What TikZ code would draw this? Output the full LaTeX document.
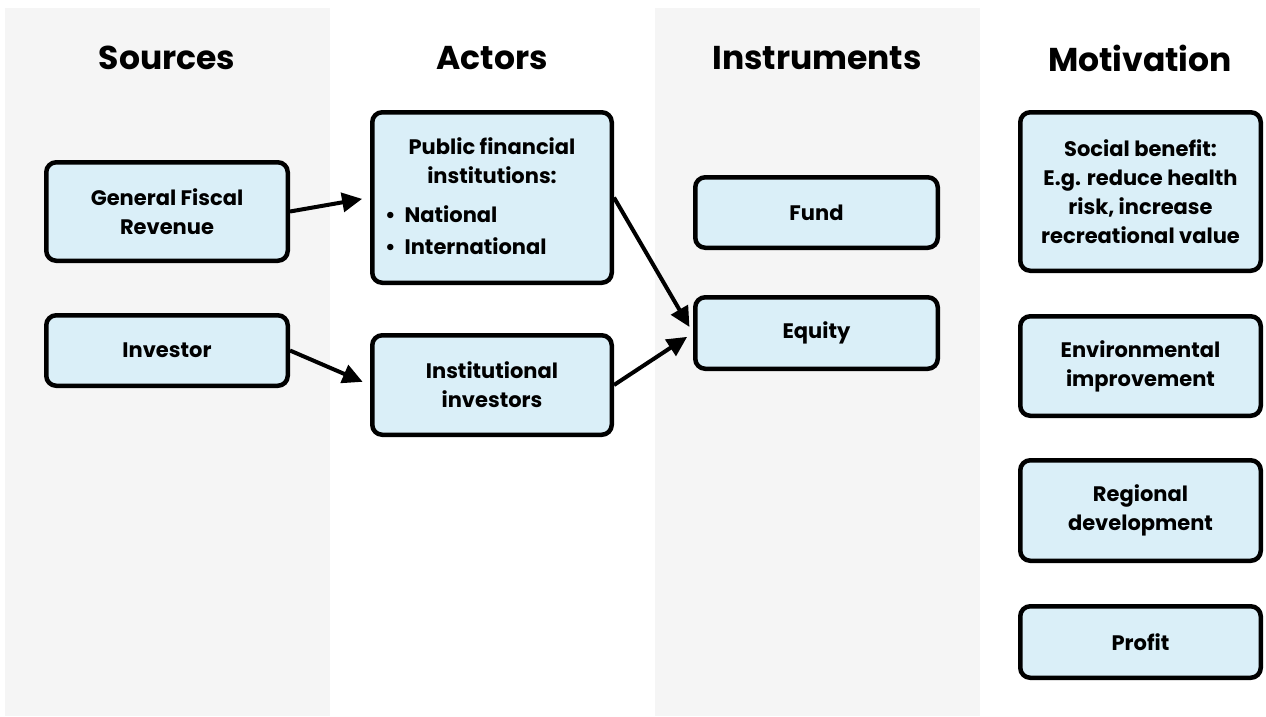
\documentclass[tikz,border=0pt]{standalone}
\usepackage{fontspec}
\setmainfont{Poppins}
\usetikzlibrary{arrows.meta}
\definecolor{panelgray}{HTML}{F5F5F5}
\definecolor{boxblue}{HTML}{DAEFF8}
\tikzset{
  panel/.style={fill=panelgray, draw=none},
  coltitle/.style={font=\fontsize{33}{40}\selectfont\bfseries, anchor=center},
  card/.style={draw=black, fill=boxblue, line width=4.5pt, rounded corners=10pt,
    align=center, font=\fontsize{21}{29}\selectfont\bfseries, inner sep=0pt},
  cardtext/.style={font=\fontsize{21}{29}\selectfont\bfseries, align=center, inner sep=0pt},
  flow/.style={line width=4pt, -{Triangle[length=20pt,width=19pt]}, shorten >=8pt}
}
\begin{document}
\begin{tikzpicture}[x=1pt,y=-1pt]
\useasboundingbox (0,0) rectangle (1266,716);
\fill[white] (0,0) rectangle (1266,716);
\fill[panel] (5,8) rectangle (330,716);
\fill[panel] (655,8) rectangle (980,716);

\node[coltitle] (tsrc) at (167,58) {Sources};
\node[coltitle] (tact) at (492,58) {Actors};
\node[coltitle] (tins) at (817,58) {Instruments};
\node[coltitle] (tmot) at (1140,58) {Motivation};

\node[card, minimum width=241.5pt, minimum height=98.5pt] (gfr) at (167,211.5) {General Fiscal\\Revenue};
\node[card, minimum width=241.5pt, minimum height=70.5pt] (inv) at (167,350.5) {Investor};
\node[card, minimum width=239.5pt, minimum height=170.5pt] (pfi) at (492,197.5) {};
\node[cardtext] (pfit) at (492,161) {Public financial\\institutions:};
\node[cardtext, anchor=west] (pfin) at (385,214) {\textbullet\ \ National};
\node[cardtext, anchor=west] (pfii) at (385,246) {\textbullet\ \ International};
\node[card, minimum width=239.5pt, minimum height=99.5pt] (ii) at (492,385) {Institutional\\investors};

\node[card, minimum width=242.5pt, minimum height=70.5pt] (fund) at (816.5,212.5) {Fund};
\node[card, minimum width=242.5pt, minimum height=71.5pt] (eq) at (816.5,333) {Equity};

\node[card, minimum width=240.5pt, minimum height=158.5pt] (soc) at (1140.5,191.5) {Social benefit:\\E.g. reduce health\\risk, increase\\recreational value};
\node[card, minimum width=240.5pt, minimum height=99.5pt] (env) at (1140.5,366) {Environmental\\improvement};
\node[card, minimum width=240.5pt, minimum height=100.5pt] (reg) at (1140.5,510.5) {Regional\\development};
\node[card, minimum width=240.5pt, minimum height=71.5pt] (prof) at (1140.5,642) {Profit};

\draw[flow] (gfr.east) -- (pfi.west);
\draw[flow] (inv.east) -- (ii.west);
\draw[flow, shorten >=7pt] (pfi.east) -- (eq.west);
\draw[flow, shorten >=7pt] (ii.east) -- (eq.west);
\end{tikzpicture}
\end{document}
